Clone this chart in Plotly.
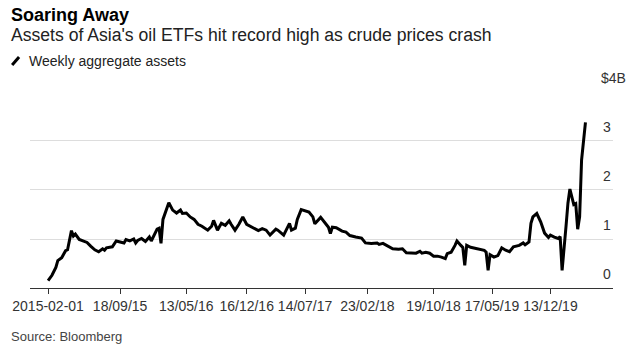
import numpy as np
import pandas as pd
import plotly.graph_objects as go

# Weeks since the first observation (2015-01-02) and aggregate assets in $B
start_date = "2015-01-02"
weeks = [0, 2, 4, 5, 7, 9, 10, 12, 13, 14, 16, 18, 20, 22, 24, 26, 28, 29, 30, 33,
         35, 37, 39, 40, 42, 44, 45, 46, 48, 50, 52, 53, 54, 56, 57, 58, 59, 61, 62, 64,
         66, 68, 69, 71, 73, 75, 77, 79, 82, 84, 85, 87, 89, 91, 93, 94, 96, 98, 100, 102,
         105, 108, 110, 112, 114, 117, 118, 121, 124, 125, 127, 128, 130, 132, 134, 136, 137, 140, 142, 144,
         145, 146, 148, 151, 153, 155, 158, 161, 163, 166, 169, 170, 172, 175, 177, 180, 182, 184, 187, 189,
         191, 192, 194, 196, 198, 200, 202, 204, 205, 207, 209, 210, 212, 213, 214, 215, 217, 221, 224, 225,
         226, 227, 229, 231, 233, 235, 237, 239, 242, 244, 245, 247, 248, 249, 251, 253, 255, 257, 258, 260,
         262, 263, 264, 266, 267, 268, 270, 271, 272, 273, 274, 276]
assets = [0.15, 0.26, 0.42, 0.56, 0.62, 0.76, 0.78, 1.17, 1.06, 1.10, 0.99, 0.96, 0.93, 0.85, 0.78, 0.74, 0.80, 0.77, 0.82, 0.84,
          0.96, 0.94, 0.92, 0.99, 0.96, 1.00, 0.92, 0.97, 1.01, 0.95, 1.04, 0.96, 1.05, 1.20, 1.22, 0.91, 1.40, 1.62, 1.74, 1.59,
          1.53, 1.59, 1.52, 1.53, 1.45, 1.40, 1.30, 1.26, 1.18, 1.26, 1.38, 1.18, 1.32, 1.28, 1.37, 1.30, 1.18, 1.30, 1.45, 1.30,
          1.24, 1.17, 1.21, 1.18, 1.08, 1.20, 1.18, 1.08, 1.32, 1.18, 1.22, 1.40, 1.60, 1.58, 1.55, 1.45, 1.31, 1.44, 1.35, 1.24,
          1.11, 1.24, 1.23, 1.16, 1.14, 1.07, 1.04, 1.02, 0.92, 0.91, 0.92, 0.89, 0.91, 0.85, 0.80, 0.79, 0.80, 0.72, 0.71, 0.71,
          0.75, 0.71, 0.73, 0.71, 0.65, 0.65, 0.63, 0.60, 0.70, 0.73, 0.87, 0.96, 0.87, 0.83, 0.46, 0.87, 0.83, 0.79, 0.77, 0.73,
          0.36, 0.68, 0.63, 0.66, 0.82, 0.77, 0.74, 0.84, 0.87, 0.92, 0.88, 0.94, 1.32, 1.45, 1.52, 1.35, 1.12, 1.03, 1.08, 1.04,
          1.01, 1.05, 0.36, 1.25, 1.73, 2.02, 1.70, 1.72, 1.20, 1.45, 2.61, 3.38]

tick_dates = ["2015-01-02", "2015-09-18", "2016-05-13", "2016-12-16", "2017-07-14",
              "2018-02-23", "2018-10-19", "2019-05-17", "2019-12-13"]
tick_labels = ["2015-02-01", "18/09/15", "13/05/16", "16/12/16", "14/07/17",
               "23/02/18", "19/10/18", "17/05/19", "13/12/19"]
y_ticks = [0, 1, 2, 3, 4]
y_labels = ["0", "1", "2", "3", "$4B"]

dates = pd.Timestamp(start_date) + pd.to_timedelta(np.array(weeks) * 7, unit="D")

FONT = "Liberation Sans, Arial, sans-serif"
W, H = 636, 348
ML, MR, MT, MB = 26, 23, 91, 60
plot_w = W - ML - MR
plot_h = H - MT - MB


def px_x(px):
    return (px - ML) / plot_w


def px_y(py):
    return (H - MB - py) / plot_h


fig = go.Figure()
fig.add_trace(go.Scatter(x=dates, y=assets, mode="lines",
                         line=dict(color="#000000", width=3), showlegend=False,
                         hoverinfo="skip"))

fig.update_layout(
    width=W, height=H,
    margin=dict(l=ML, r=MR, t=MT, b=MB),
    paper_bgcolor="white", plot_bgcolor="white",
    font=dict(family=FONT, color="#333333", size=14),
    xaxis=dict(
        type="date",
        range=["2014-10-29", "2020-07-25"],
        tickvals=tick_dates, ticktext=tick_labels,
        showgrid=False, zeroline=False,
        showline=True, linecolor="#333333", linewidth=1,
        ticks="outside", ticklen=5, tickcolor="#333333", tickwidth=1,
        tickfont=dict(size=14, color="#333333"),
    ),
    yaxis=dict(
        range=[0, 4.02],
        tickvals=y_ticks, showticklabels=False,
        showgrid=True, gridcolor="#dddddd", gridwidth=1,
        zeroline=False, showline=False, ticks="",
    ),
)

annotations = []
for v, lab in zip(y_ticks, y_labels):
    annotations.append(dict(x=1, xref="paper", y=v, yref="y", text=lab,
                            xanchor="right", yanchor="bottom", yshift=4,
                            xshift=15 if lab.startswith("$") else 0,
                            showarrow=False, font=dict(size=14, color="#333333")))

annotations += [
    dict(x=px_x(5), y=px_y(22), xref="paper", yref="paper", text="<b>Soaring Away</b>",
         xanchor="left", yanchor="bottom", yshift=-5, showarrow=False,
         font=dict(size=18, color="#000000")),
    dict(x=px_x(5), y=px_y(42), xref="paper", yref="paper",
         text="Assets of Asia's oil ETFs hit record high as crude prices crash",
         xanchor="left", yanchor="bottom", yshift=-5, showarrow=False,
         font=dict(size=17.6, color="#222222")),
    dict(x=px_x(23), y=px_y(61), xref="paper", yref="paper",
         text="Weekly aggregate assets",
         xanchor="left", yanchor="middle", showarrow=False,
         font=dict(size=14, color="#222222")),
    dict(x=px_x(5), y=px_y(336), xref="paper", yref="paper",
         text="Source: Bloomberg",
         xanchor="left", yanchor="middle", showarrow=False,
         font=dict(size=13, color="#444444")),
]
fig.update_layout(annotations=annotations)

fig.add_shape(type="line", xref="paper", yref="paper",
              x0=px_x(8), y0=px_y(65), x1=px_x(15), y1=px_y(57),
              line=dict(color="#000000", width=3))

fig.write_html("out.html")
